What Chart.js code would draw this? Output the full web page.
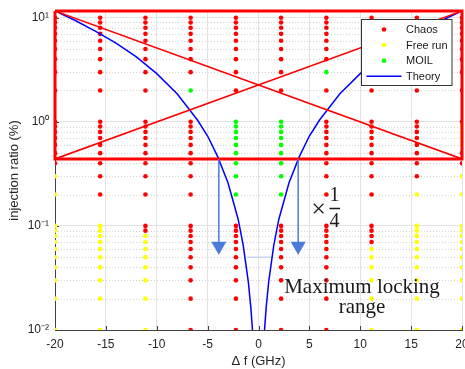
<!DOCTYPE html>
<html>
<head>
<meta charset="utf-8">
<script src="https://cdn.jsdelivr.net/npm/chart.js@4.4.0/dist/chart.umd.min.js"></script>
<style>
  body { margin: 0; background: #fff; }
  canvas { display: block; }
</style>
</head>
<body>
<canvas id="chart" width="465" height="369"></canvas>
<script>
// detuning columns (GHz) and injection-ratio levels (%)
const freqs = [-20, -15.56, -11.11, -6.67, -2.22, 2.22, 6.67, 11.11, 15.56, 20];
const ratios = [
    0.01, 0.02, 0.03, 0.04, 0.05, 0.06, 0.07, 0.08, 0.09,
    0.1, 0.2, 0.3, 0.4, 0.5, 0.6, 0.7, 0.8, 0.9,
    1, 2, 3, 4, 5, 6, 7, 8, 9,
    10
];
// state for each column, one letter per ratio level (C = chaos, F = free run, M = MOIL)
const states = [
    'FFFFFFFFF FFFCCCCCC CCCCCCCCC C',
    'FFFFFFFFF FCCCCCCCC CCCCCCCCC C',
    'FFFFFFFFC CCCCCCCCC CCCCCCCCC C',
    'CCCCCCCCC CCCCCCCCC CMCCCCCCC C',
    'CCCCCCCCC CMMMMMMMM MCCCCCCCC C',
    'CCCCCCCCC CMMMMMMMM MCCCCCCCC C',
    'CCCCCCCCC CCCCCCCCC CCMCCCCCC C',
    'FFFFFFCCC CCCCCCCCC CCCCCCCCC C',
    'FFFFFFFFF FFCCCCCCC CCCCCCCCC C',
    'FFFFFFFFF FFFCCFFFF CCCCCCCCC C'
];

// theory locking boundary
const theoryX = [-20, -18, -16, -14, -12, -10, -8, -6, -5, -4, -3, -2, -1.5, -1, -0.75, -0.55,
    null, 0.55, 0.75, 1, 1.5, 2, 3, 4, 5, 6, 8, 10, 12, 14, 16, 18, 20];
const theoryY = [11.6, 9.4, 7.4, 5.7, 4.2, 2.9, 1.86, 1.04, 0.73, 0.46, 0.26, 0.116, 0.065, 0.029, 0.0163, 0.0088,
    null, 0.0088, 0.0163, 0.029, 0.065, 0.116, 0.26, 0.46, 0.73, 1.04, 1.86, 2.9, 4.2, 5.7, 7.4, 9.4, 11.6];

// red chaos box and its diagonals
const boxX = [-20, 20, 20, -20, -20];
const boxY = [11.6, 11.6, 0.44, 0.44, 11.6];
const diag1X = [-20, 20], diag1Y = [11.6, 0.44];
const diag2X = [-20, 20], diag2Y = [0.44, 11.6];

// arrows at the locking edges, and the narrow range line
const arrowX = [-3.9, 3.9];
const arrowFrom = 0.44, arrowTip = 0.064;
const rangeX = [-1.1, 1.45], rangeY = 0.05;

const xTicks = [-20, -15, -10, -5, 0, 5, 10, 15, 20];
const yDecades = [0.01, 0.1, 1, 10];
const yDecadeLabels = ['10\u207B\u00B2', '10\u207B\u00B9', '10\u2070', '10\u00B9'];

const axisColor = '#404040';
const sans = '"Liberation Sans", Arial, sans-serif';
const serif = '"Liberation Serif", "Times New Roman", serif';

const pointColors = { C: '#ff0000', F: '#ffff00', M: '#00ff00' };
const pointLabels = { C: 'Chaos', F: 'Free run', M: 'MOIL' };

function pointsFor(code) {
    const out = [];
    freqs.forEach((f, i) => {
        const s = states[i].replace(/ /g, '');
        ratios.forEach((r, j) => {
            if (s[j] === code) out.push({ x: f, y: r });
        });
    });
    return out;
}

function line(xs, ys, color, width, extra) {
    return Object.assign({
        showLine: true,
        data: xs.map((x, i) => ({ x: x, y: ys[i] })),
        borderColor: color,
        backgroundColor: color,
        borderWidth: width,
        pointRadius: 0,
        fill: false,
        spanGaps: false
    }, extra || {});
}

const datasets = [];
['C', 'F', 'M'].forEach(code => {
    datasets.push({
        label: pointLabels[code],
        data: pointsFor(code),
        backgroundColor: pointColors[code],
        borderWidth: 0,
        pointRadius: 2.3,
        order: 5
    });
});
datasets.push(line(theoryX, theoryY, '#0000ff', 1.5, { label: 'Theory', order: 3 }));
datasets.push(line(boxX, boxY, '#ff0000', 3, { label: 'box', order: 2, clip: false }));
datasets.push(line(diag1X, diag1Y, '#ff0000', 1.5, { label: 'diag', order: 2 }));
datasets.push(line(diag2X, diag2Y, '#ff0000', 1.5, { label: 'diag', order: 2 }));
datasets.push(line(rangeX, [rangeY, rangeY], '#c9d6f2', 1.5, { label: 'range', order: 4 }));
arrowX.forEach(ax => {
    datasets.push(line([ax, ax], [arrowFrom, arrowTip], '#4a7bdc', 1.5, { label: 'arrow', order: 1 }));
    datasets.push({
        label: 'arrowhead',
        data: [{ x: ax, y: arrowTip }],
        pointStyle: 'triangle',
        rotation: 180,
        pointRadius: 8.7,
        backgroundColor: '#4a7bdc',
        borderColor: '#4a7bdc',
        borderWidth: 0,
        order: 1
    });
});

// dotted minor grid and inward tick marks
const gridPlugin = {
    id: 'minorGrid',
    beforeDatasetsDraw(chart) {
        const { ctx, chartArea: a, scales: { x, y } } = chart;
        ctx.save();
        ctx.strokeStyle = '#d2d2d2';
        ctx.lineWidth = 1;
        ctx.setLineDash([1, 2]);
        ratios.forEach(r => {
            if (yDecades.indexOf(r) >= 0) return;
            const py = Math.round(y.getPixelForValue(r)) + 0.5;
            ctx.beginPath();
            ctx.moveTo(a.left, py);
            ctx.lineTo(a.right, py);
            ctx.stroke();
        });
        ctx.setLineDash([]);
        ctx.strokeStyle = axisColor;
        xTicks.forEach(v => {
            const px = Math.round(x.getPixelForValue(v)) + 0.5;
            ctx.beginPath();
            ctx.moveTo(px, a.bottom);
            ctx.lineTo(px, a.bottom - 4);
            ctx.stroke();
        });
        yDecades.forEach(v => {
            const py = Math.round(y.getPixelForValue(v)) + 0.5;
            ctx.beginPath();
            ctx.moveTo(a.left, py);
            ctx.lineTo(a.left + 4, py);
            ctx.stroke();
        });
        ctx.restore();
    }
};

// legend box and the text notes
const notesPlugin = {
    id: 'notes',
    afterDraw(chart) {
        const ctx = chart.ctx;
        ctx.save();

        // legend
        ctx.fillStyle = '#ffffff';
        ctx.fillRect(362, 19.5, 90, 66);
        ctx.strokeStyle = '#333333';
        ctx.lineWidth = 1;
        ctx.strokeRect(361.5, 19.5, 90.5, 66);
        ctx.font = '11px ' + sans;
        ctx.textBaseline = 'middle';
        ctx.textAlign = 'left';
        const rows = [29.5, 45, 60.7, 76.3];
        ['Chaos', 'Free run', 'MOIL', 'Theory'].forEach((name, i) => {
            const ds = chart.data.datasets.find(d => d.label === name);
            const ry = rows[i];
            if (name === 'Theory') {
                ctx.strokeStyle = ds.borderColor;
                ctx.lineWidth = 1.5;
                ctx.beginPath();
                ctx.moveTo(366.5, ry);
                ctx.lineTo(401.5, ry);
                ctx.stroke();
            } else {
                ctx.fillStyle = ds.backgroundColor;
                ctx.beginPath();
                ctx.arc(384, ry, 2.3, 0, Math.PI * 2);
                ctx.fill();
            }
            ctx.fillStyle = '#1a1a1a';
            ctx.fillText(name, 406, ry + 0.5);
        });

        // x 1/4 note
        ctx.fillStyle = '#1a1a1a';
        ctx.textAlign = 'center';
        ctx.font = '26px ' + serif;
        ctx.fillText('\u00D7', 318.5, 210);
        ctx.font = '20px ' + serif;
        ctx.fillText('1', 334.5, 196);
        ctx.fillText('4', 334.5, 221.5);
        ctx.strokeStyle = '#1a1a1a';
        ctx.lineWidth = 1.5;
        ctx.beginPath();
        ctx.moveTo(329.5, 208.5);
        ctx.lineTo(340, 208.5);
        ctx.stroke();

        // locking range note
        ctx.font = '21px ' + serif;
        ctx.textBaseline = 'alphabetic';
        ctx.fillText('Maximum locking', 362, 293);
        ctx.fillText('range', 362, 313);
        ctx.restore();
    }
};

new Chart(document.getElementById('chart').getContext('2d'), {
    type: 'scatter',
    data: { datasets: datasets },
    plugins: [gridPlugin, notesPlugin],
    options: {
        responsive: false,
        animation: false,
        events: [],
        layout: { autoPadding: false, padding: { top: 11, right: 3, left: 0, bottom: 0 } },
        plugins: {
            legend: { display: false },
            tooltip: { enabled: false }
        },
        scales: {
            x: {
                type: 'linear',
                min: -20,
                max: 20,
                afterBuildTicks: s => { s.ticks = xTicks.map(v => ({ value: v })); },
                afterFit: s => { s.height = 39; s.paddingLeft = 0; s.paddingRight = 0; },
                grid: { color: '#e3e3e3', drawTicks: false },
                border: { color: axisColor, width: 1 },
                ticks: {
                    padding: 7,
                    color: '#262626',
                    font: { family: sans, size: 12 },
                    autoSkip: false,
                    maxRotation: 0
                },
                title: {
                    display: true,
                    text: '\u0394 f (GHz)',
                    color: '#262626',
                    font: { family: sans, size: 13 },
                    padding: { top: 0, bottom: 0 }
                }
            },
            y: {
                type: 'logarithmic',
                min: 0.01,
                max: 11.6,
                afterBuildTicks: s => { s.ticks = ratios.map(v => ({ value: v })); },
                afterFit: s => { s.width = 55; s.paddingTop = 0; s.paddingBottom = 0; },
                grid: {
                    color: c => (yDecades.indexOf(c.tick.value) >= 0 ? '#e3e3e3' : 'rgba(0,0,0,0)'),
                    drawTicks: false
                },
                border: { color: axisColor, width: 1 },
                ticks: {
                    padding: 6,
                    color: '#262626',
                    font: { family: sans, size: 12 },
                    autoSkip: false,
                    callback: v => {
                        const i = yDecades.indexOf(v);
                        return i >= 0 ? yDecadeLabels[i] : '';
                    }
                },
                title: {
                    display: true,
                    text: 'injection ratio (%)',
                    color: '#262626',
                    font: { family: sans, size: 13 },
                    padding: { top: 7, bottom: 0 }
                }
            }
        }
    }
});
</script>
</body>
</html>
